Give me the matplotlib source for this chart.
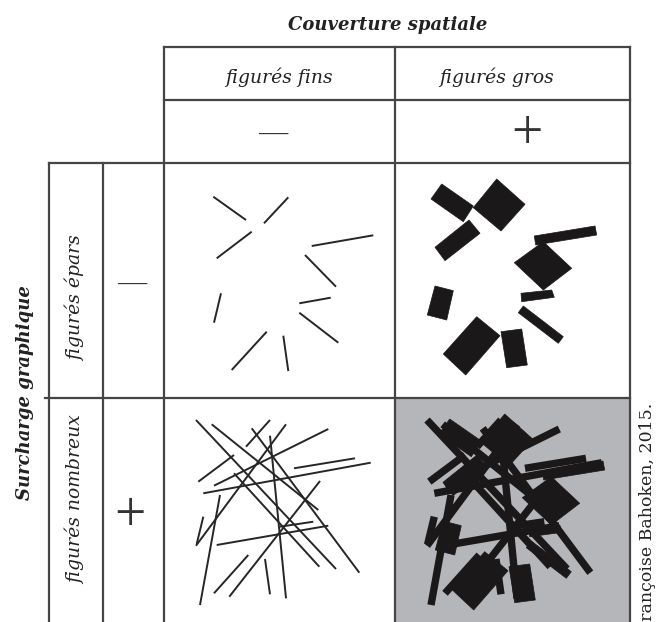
import matplotlib.pyplot as plt
from matplotlib.patches import Polygon, Rectangle

# text content
col_title = 'Couverture spatiale'
row_title = 'Surcharge graphique'
col_labels = ['figurés fins', 'figurés gros']
row_labels = ['figurés épars', 'figurés nombreux']
signs = ['—', '+']
credit = 'Françoise Bahoken, 2015.'

# fine strokes, few of them (cell-local px: x0, y0, x1, y1)
sparse_lines = [
    (49.3, 33.7, 82.0, 57.0),
    (124.3, 34.3, 100.0, 60.3),
    (87.7, 68.7, 52.7, 95.3),
    (147.7, 83.0, 209.3, 72.3),
    (141.0, 92.0, 172.0, 123.7),
    (57.0, 130.3, 50.0, 159.7),
    (135.3, 140.3, 166.7, 134.7),
    (135.3, 149.7, 174.3, 179.7),
    (102.7, 168.7, 67.7, 207.0),
    (119.3, 172.7, 124.3, 208.0),
]

# many strokes
dense_lines = [
    (32.0, 22.0, 172.0, 171.0),
    (47.7, 26.3, 154.3, 112.0),
    (87.7, 30.3, 195.3, 174.7),
    (106.0, 22.0, 82.0, 48.7),
    (122.0, 26.3, 32.0, 147.7),
    (164.3, 31.0, 50.0, 87.7),
    (70.0, 57.0, 34.3, 83.7),
    (191.0, 60.3, 130.0, 70.3),
    (206.7, 64.7, 39.3, 95.3),
    (106.0, 37.7, 122.0, 200.3),
    (156.0, 83.0, 65.3, 198.7),
    (70.0, 75.3, 155.3, 168.7),
    (56.0, 97.0, 36.0, 207.0),
    (39.3, 118.7, 32.7, 146.0),
    (164.3, 127.7, 52.7, 147.0),
    (149.3, 123.7, 116.0, 128.7),
    (84.3, 157.0, 50.0, 195.3),
    (101.0, 161.0, 106.0, 196.3),
]

# big blocks (cell-local px corners)
blocks = [
    [(46.7, 21.0), (78.3, 43.0), (68.3, 58.7), (36.0, 36.0)],
    [(101.7, 16.0), (130.0, 41.3), (106.0, 68.0), (78.3, 44.7)],
    [(40.0, 84.3), (74.0, 57.0), (85.0, 70.3), (50.0, 97.7)],
    [(139.3, 73.0), (200.0, 63.0), (201.7, 72.0), (140.7, 82.0)],
    [(119.3, 99.7), (148.3, 78.7), (176.7, 105.3), (148.3, 127.0)],
    [(126.0, 130.3), (156.7, 127.0), (159.3, 134.3), (126.7, 138.7)],
    [(40.0, 123.0), (58.3, 127.7), (51.7, 157.0), (32.3, 152.0)],
    [(128.3, 143.0), (168.3, 173.7), (163.3, 180.3), (123.3, 149.7)],
    [(48.3, 191.0), (81.7, 153.7), (105.0, 172.7), (70.7, 212.0)],
    [(106.0, 168.7), (126.7, 166.0), (132.3, 202.0), (111.7, 204.7)],
]

W, H = 657, 622
col_x = [164, 395, 630]
row_y = [163, 398, 640]
grid_c = '#454545'
ink = '#1b1819'
serif = 'DejaVu Serif'

fig = plt.figure(figsize=(W / 100, H / 100), dpi=100)
ax = fig.add_axes([0, 0, 1, 1])
ax.set_xlim(0, W)
ax.set_ylim(H, 0)
ax.axis('off')

# grey cell
ax.add_patch(Rectangle((col_x[1], row_y[1]), col_x[2] - col_x[1], row_y[2] - row_y[1],
                       facecolor='#b5b6b9', edgecolor='none', zorder=0))


def draw_lines(segs, ox, oy, lw, color):
    for x0, y0, x1, y1 in segs:
        ax.plot([ox + x0, ox + x1], [oy + y0, oy + y1], color=color, lw=lw,
                solid_capstyle='butt', zorder=2)


def draw_blocks(polys, ox, oy):
    for pts in polys:
        ax.add_patch(Polygon([(ox + x, oy + y) for x, y in pts], closed=True,
                             facecolor=ink, edgecolor=ink, lw=0.5, zorder=2))


draw_lines(sparse_lines, col_x[0], row_y[0], 1.4, '#262626')
draw_blocks(blocks, col_x[1], row_y[0])
draw_lines(dense_lines, col_x[0], row_y[1], 1.4, '#262626')
draw_blocks(blocks, col_x[1] + 8, row_y[1])
draw_lines(dense_lines, col_x[1], row_y[1], 5.3, ink)

# table rules
lw = 1.6
for y in [47, 100]:
    ax.plot([col_x[0], col_x[2]], [y, y], color=grid_c, lw=lw, zorder=3)
ax.plot([49, col_x[2]], [row_y[0], row_y[0]], color=grid_c, lw=lw, zorder=3)
ax.plot([45, col_x[2]], [row_y[1], row_y[1]], color=grid_c, lw=lw, zorder=3)
for x in col_x:
    ax.plot([x, x], [47, H], color=grid_c, lw=lw, zorder=3)
for x in [49, 103]:
    ax.plot([x, x], [row_y[0], H], color=grid_c, lw=lw, zorder=3)

# headers
ax.text(388, 25, col_title, family=serif, style='italic', weight='bold',
        fontsize=13, ha='center', va='center', color='#222')
ax.text(25, 393, row_title, family=serif, style='italic', weight='bold',
        fontsize=13, ha='center', va='center', rotation=90, color='#222')

col_cx = [279, 497]
for cx, lab in zip(col_cx, col_labels):
    ax.text(cx, 77, lab, family=serif, style='italic', fontsize=13.5,
            ha='center', va='center', color='#222')
row_cy = [298, 500]
for cy, lab in zip(row_cy, row_labels):
    ax.text(75, cy, lab, family=serif, style='italic', fontsize=13.5,
            ha='center', va='center', rotation=90, color='#222')

# signs
sign_size = {'—': 21, '+': 40}
for (cx, cy), s in zip([(273, 135), (527, 135)], signs):
    ax.text(cx, cy, s, family='Liberation Serif', fontsize=sign_size[s],
            ha='center', va='center', color='#333')
for (cx, cy), s in zip([(132, 285), (130, 517)], signs):
    ax.text(cx, cy, s, family='Liberation Serif', fontsize=sign_size[s],
            ha='center', va='center', color='#333')

ax.text(648, 403, credit, family=serif, fontsize=12.5, rotation=90,
        ha='center', va='top', color='#222')

fig.savefig('out.png', dpi=100)
